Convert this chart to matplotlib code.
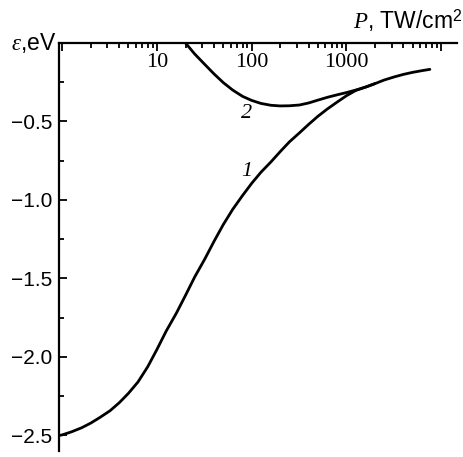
import numpy as np
import matplotlib
matplotlib.use("Agg")
import matplotlib.pyplot as plt
from matplotlib.ticker import FixedLocator, NullFormatter, FixedFormatter

plt.rcParams['mathtext.fontset'] = 'custom'
plt.rcParams['mathtext.rm'] = 'Liberation Sans'
plt.rcParams['mathtext.it'] = 'Liberation Serif:italic'

# Curve 1 (P in TW/cm^2, energy in eV)
p1 = [0.95, 1.0, 1.25, 1.6, 2.0, 2.5, 3.2, 4.0, 5.0, 6.3, 8.0, 10, 12.5, 16, 20, 25, 32, 40, 50, 63, 80,
      100, 125, 160, 200, 250, 320, 400, 500, 630, 800, 1000, 1250, 1600, 2000, 2500, 3200, 4000, 5000, 6300, 7600]
e1 = [-2.500, -2.497, -2.478, -2.452, -2.422, -2.386, -2.343, -2.292, -2.232, -2.160, -2.062, -1.952, -1.836,
      -1.722, -1.608, -1.491, -1.376, -1.264, -1.158, -1.060, -0.972, -0.894, -0.824, -0.757, -0.692, -0.630,
      -0.572, -0.518, -0.467, -0.420, -0.376, -0.336, -0.303, -0.280, -0.259, -0.236, -0.216, -0.200, -0.187,
      -0.176, -0.168]

# Curve 2
p2 = [20, 25, 32, 40, 50, 63, 80, 100, 125, 160, 200, 250, 320, 400, 500, 630, 800, 1000, 1250, 1600, 2000]
e2 = [0.0, -0.070, -0.137, -0.197, -0.252, -0.300, -0.340, -0.366, -0.385, -0.397, -0.401, -0.400, -0.395,
      -0.382, -0.364, -0.346, -0.330, -0.316, -0.300, -0.281, -0.259]

xmajor = [1, 10, 100, 1000, 10000]
xlabels = ["", "10", "100", "1000", ""]
yticks = [0.0, -0.5, -1.0, -1.5, -2.0, -2.5]
ylabels = ["", "\u22120.5", "\u22121.0", "\u22121.5", "\u22122.0", "\u22122.5"]

fig = plt.figure(figsize=(4.64, 4.57), dpi=100)
ax = fig.add_axes([59.3/464, 1-451/457, (457-59.3)/464, (451-43)/457])
ax.set_xscale('log')
ax.set_xlim(0.93, 14700)
ax.set_ylim(-2.6, 0.0)

ax.plot(p1, e1, color='black', lw=2.0, solid_capstyle='round', solid_joinstyle='round')
ax.plot(p2, e2, color='black', lw=2.0, solid_capstyle='round', solid_joinstyle='round')

for s in ['right', 'bottom']:
    ax.spines[s].set_visible(False)
for s in ['left', 'top']:
    ax.spines[s].set_linewidth(1.6)

ax.xaxis.set_major_locator(FixedLocator(xmajor))
ax.xaxis.set_major_formatter(FixedFormatter(xlabels))
minors = [m * 10**d for d in range(0, 4) for m in range(2, 10)]
ax.xaxis.set_minor_locator(FixedLocator(minors))
ax.xaxis.set_minor_formatter(NullFormatter())
ax.tick_params(axis='x', which='both', top=True, labeltop=True, bottom=False, labelbottom=False,
               direction='in', width=1.3)
ax.tick_params(axis='x', which='major', length=6, pad=-21)
ax.tick_params(axis='x', which='minor', length=3.5)
for lab in ax.get_xticklabels():
    lab.set_fontfamily('Liberation Serif')
    lab.set_fontsize(16)

ax.yaxis.set_major_locator(FixedLocator(yticks))
ax.yaxis.set_major_formatter(FixedFormatter(ylabels))
ax.yaxis.set_minor_locator(FixedLocator([-0.25, -0.75, -1.25, -1.75, -2.25]))
ax.tick_params(axis='y', which='both', direction='in', width=1.3, left=True, right=False)
ax.tick_params(axis='y', which='major', length=6, pad=5)
ax.tick_params(axis='y', which='minor', length=3.5)
for lab in ax.get_yticklabels():
    lab.set_fontfamily('Liberation Sans')
    lab.set_fontsize(15)

ax.text(88.5, -0.82, "1", fontfamily='Liberation Serif', fontstyle='italic', fontsize=16,
        ha='center', va='center')
ax.text(88.5, -0.45, "2", fontfamily='Liberation Serif', fontstyle='italic', fontsize=16,
        ha='center', va='center')

fig.text(56/464, 1-43/457, r"$\varepsilon$,eV", fontfamily='Liberation Sans', fontsize=16.5,
         ha='right', va='center')
fig.text(462/464, 1-29/457, r"$P$, TW/cm$^{\mathrm{2}}$", fontfamily='Liberation Sans', fontsize=16.5,
         ha='right', va='baseline')

fig.savefig("out.png", dpi=100)
